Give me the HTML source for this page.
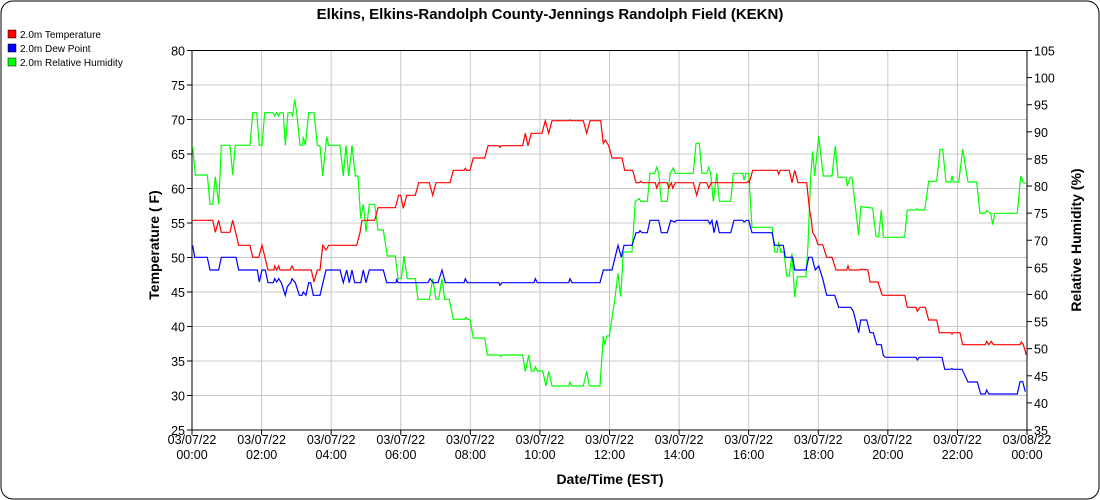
<!DOCTYPE html>
<html><head><meta charset="utf-8"><style>
body{margin:0;background:#fff;}
svg{display:block;font-family:"Liberation Sans",sans-serif;}
</style></head><body>
<svg id="s" width="1100" height="500" xmlns="http://www.w3.org/2000/svg">
<rect x="1" y="1" width="1098" height="498" rx="12" fill="#fff" stroke="#000" stroke-width="1"/>
<text x="550" y="19" text-anchor="middle" font-size="15" font-weight="bold">Elkins, Elkins-Randolph County-Jennings Randolph Field (KEKN)</text>
<rect x="8" y="30" width="8" height="8" fill="#f00" stroke="#000" stroke-width="0.5"/>
<text x="20" y="38" font-size="10">2.0m Temperature</text>
<rect x="8" y="44" width="8" height="8" fill="#00f" stroke="#000" stroke-width="0.5"/>
<text x="20" y="52" font-size="10">2.0m Dew Point</text>
<rect x="8" y="58" width="8" height="8" fill="#0f0" stroke="#000" stroke-width="0.5"/>
<text x="20" y="66" font-size="10">2.0m Relative Humidity</text>
<g id="grid" stroke="#c8c8c8" stroke-width="1"></g>
<g id="ax" font-size="12.5"></g>
<g id="lines" fill="none" stroke-width="1.2"></g>
<text x="610" y="484" text-anchor="middle" font-size="14" font-weight="bold">Date/Time (EST)</text>
<text transform="translate(159,245) rotate(-90)" text-anchor="middle" font-size="14" font-weight="bold">Temperature ( F)</text>
<text transform="translate(1081,240) rotate(-90)" text-anchor="middle" font-size="14" font-weight="bold">Relative Humidity (%)</text>
</svg>
<script>
var ns="http://www.w3.org/2000/svg";
function el(p,t,a,txt){var e=document.createElementNS(ns,t);for(var k in a)e.setAttribute(k,a[k]);if(txt!==undefined)e.textContent=txt;p.appendChild(e);return e;}
var g=document.getElementById('grid'),ax=document.getElementById('ax'),L=192,R=1027,T=50.5,B=430;
for(var i=0;i<=11;i++){var y=T+i*(B-T)/11;el(g,'line',{x1:L,x2:R,y1:y,y2:y});el(ax,'line',{x1:L-5,x2:L,y1:y,y2:y,stroke:'#000'});el(ax,'text',{x:L-7,y:y+5,'text-anchor':'end'},80-5*i);}
for(var i=0;i<=14;i++){var y=T+i*(B-T)/14;el(ax,'line',{x1:R,x2:R+5,y1:y,y2:y,stroke:'#000'});el(ax,'text',{x:R+7,y:y+5},105-5*i);}
var hrs=['00:00','02:00','04:00','06:00','08:00','10:00','12:00','14:00','16:00','18:00','20:00','22:00','00:00'];
for(var i=0;i<=12;i++){var x=L+i*(R-L)/12;el(g,'line',{x1:x,x2:x,y1:T,y2:B});el(ax,'line',{x1:x,x2:x,y1:B,y2:B+5,stroke:'#000'});
el(ax,'text',{x:x,y:B+14,'text-anchor':'middle'},i==12?'03/08/22':'03/07/22');el(ax,'text',{x:x,y:B+29,'text-anchor':'middle'},hrs[i]);}
el(ax,'line',{x1:L,x2:R,y1:T,y2:T,stroke:'#000'});el(ax,'line',{x1:L,x2:R,y1:B,y2:B,stroke:'#000'});
el(ax,'line',{x1:L,x2:L,y1:T,y2:B,stroke:'#000'});el(ax,'line',{x1:R,x2:R,y1:T,y2:B,stroke:'#000'});
function seg(ox,oy,a){var o=[];for(var i=0;i<a.length;i+=2)o.push([ox+a[i]/3,oy+a[i+1]/3]);return o;}
var red=[].concat(
seg(180,40,[38,541,98,541,106,577,116,541,124,577,150,577,158,541,176,616,210,616,218,652,236,652,246,616,264,690,282,690,284,678,290,690,296,678,300,690,330,690,336,678,342,690,394,690,402,726,412,690,420,690,428,616,438,630,446,616,530,616,540,578,546,541,584,541,594,503,646,503,656,466,662,466,670,505,680,466,706,466,716,428,748,428,758,466,768,428,810,428,820,391,852,391,856,385,860,391,870,391,880,354,900,354]),
seg(460,40,[0,391,12,391,16,385,22,391,30,391,40,354,74,354,84,317,116,317,120,322,124,317,188,317,196,280,204,317,214,280,246,280,256,242,266,280,276,242,326,242,330,240,334,242,370,242,380,280,390,242,422,242,430,310,436,300,446,317,456,354,486,354,494,391,518,391,528,428,538,428,542,424,546,428,586,428,590,444,596,428,622,428,626,444,634,428,638,444,646,428,700,428,710,466,720,428,740,428,746,444,754,428,860,428,864,424,868,428,878,391,900,391]),
seg(740,40,[0,391,34,391,112,391,116,403,120,391,148,391,156,428,164,391,174,428,200,428,208,503,214,541,218,578,226,590,234,614,248,614,260,652,276,652,288,690,320,690,324,678,328,690,360,690,364,688,384,690,390,726,414,726,426,764,430,766,494,766,502,802,528,802,532,814,540,802,556,802,566,840,590,840,598,878,632,878,636,882,640,878,660,878,668,914,736,914,740,904,746,914,754,904,760,914,840,914,844,906,850,914,856,934,858,944]));
var blue=[].concat(
seg(180,40,[38,616,44,652,82,652,90,690,116,690,124,652,168,652,176,690,232,690,238,726,246,690,256,690,264,728,280,728,284,716,290,726,296,716,304,728,316,766,322,740,332,728,336,716,346,728,358,766,366,766,370,756,378,766,386,728,392,728,400,766,420,766,438,690,480,690,490,728,500,690,508,728,516,690,524,728,542,728,550,690,558,728,568,690,610,690,620,728,648,728,650,716,654,728,744,728,750,716,760,728,774,728,786,690,796,728,852,728,856,716,862,728,900,728]),
seg(460,40,[0,728,12,728,16,716,20,728,116,728,120,736,126,728,222,728,226,716,232,728,326,728,330,716,336,728,420,728,430,690,456,690,474,616,484,652,492,616,516,616,528,578,536,578,540,572,546,578,562,578,570,541,596,541,604,578,622,578,632,541,644,546,650,541,744,541,750,552,756,541,762,578,770,541,778,578,812,578,822,541,848,541,852,546,860,541,866,541,876,578,900,578]),
seg(740,40,[0,541,10,546,16,541,24,541,34,578,96,578,104,616,130,616,136,652,158,652,164,690,198,690,206,652,216,652,226,690,236,678,248,716,260,766,284,766,296,802,332,802,340,814,356,878,362,840,380,840,390,878,400,878,410,914,424,914,430,946,436,952,528,952,532,960,538,952]),
seg(900,330,[0,82,48,82,52,90,56,82,126,82,134,118,150,118,156,116,160,118,186,118,204,156,232,156,242,192,256,192,260,180,266,192,352,192,360,155,368,155,376,185]));
var green=[].concat(
seg(180,40,[38,320,46,405,82,405,90,493,98,493,106,410,116,493,124,316,150,316,158,405,166,316,210,316,218,218,230,218,238,316,246,316,254,218,280,218,284,228,290,218,296,228,300,218,310,218,316,316,324,218,334,218,338,228,344,178,350,218,360,316,368,316,370,290,376,316,386,218,402,218,412,316,420,318,428,408,440,290,446,316,480,316,490,408,498,316,506,408,516,316,526,408,534,408,542,535,550,493,558,575,568,493,584,493,594,570,610,570,622,648,646,648,654,716,664,716,672,648,682,716,706,716,714,778,748,778,758,716,768,778,776,778,786,716,794,778,808,778,820,838,854,838,858,832,862,838,870,838,880,894,900,894]),
seg(460,40,[0,894,40,894]).slice(1),
seg(470,300,[0,58,10,114,44,114,52,165,88,165,92,170,96,165,158,165,166,215,176,165,184,213,192,213,196,200,202,213,218,213,228,258,236,214,246,258,296,258,300,247,306,258,340,258,350,214,358,258,390,258,400,108,404,135,410,108,418,108,434,0]),
seg(460,40,[474,700,482,770,490,636,516,636,526,484,538,476,542,484,562,484,570,400,584,400,590,382,596,400,604,484,622,484,630,400,640,384,646,400,700,400,708,310,718,310,726,400,740,400,746,382,752,400,760,484,770,400,778,484,812,484,820,400,848,400,852,420,858,400,866,400,876,562,900,562]),
seg(740,40,[0,562,34,562,96,562,104,636,112,636,116,606,122,636,132,636,140,708,148,708,156,640,164,772,172,710,198,710,204,614,212,408,218,334,224,408,236,288,250,408,276,408,286,318,294,412,318,412,322,438,330,412,336,412,356,586,362,500,398,504,408,590,416,590,424,510,430,592,494,592,502,510,526,510,530,506,534,510,554,510,566,424,590,424,600,328,608,328,618,426,632,426,636,408,640,426,656,426,668,328,684,426,710,426,720,520,736,520,740,512,752,520,758,554,764,520,832,520,842,408,850,428,858,430]));
function clean(a){var o=[];a.forEach(function(p){if(!o.length||p[0]>=o[o.length-1][0]-0.5)o.push(p);});return o;}
var lg=document.getElementById('lines');
[[green,'#00ff00'],[red,'#ff0000'],[blue,'#0000ff']].forEach(function(s){
el(lg,'polyline',{points:clean(s[0]).map(function(p){return p[0].toFixed(1)+','+p[1].toFixed(1);}).join(' '),stroke:s[1]});});
</script>
</body></html>
